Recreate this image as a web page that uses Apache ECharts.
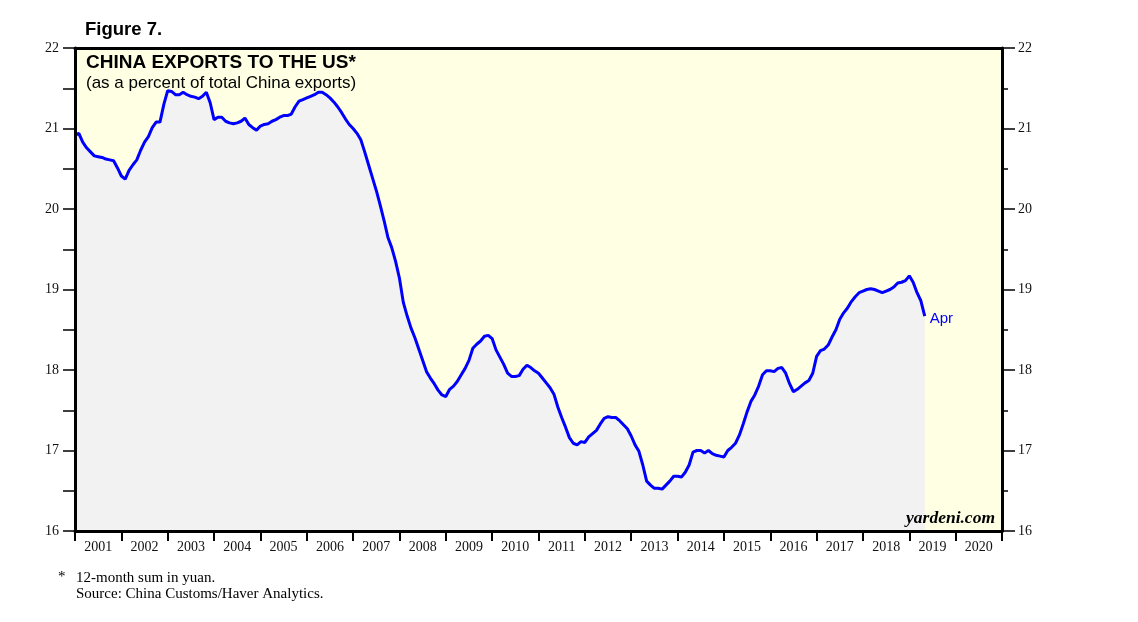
<!DOCTYPE html>
<html>
<head>
<meta charset="utf-8">
<script src="https://cdn.jsdelivr.net/npm/echarts@6/dist/echarts.min.js"></script>
<style>html,body{margin:0;padding:0;background:#fff}#c{width:1138px;height:622px}</style>
</head>
<body>
<div id="c"></div>
<script>
// Monthly values, end of Dec 2000 through end of Apr 2019 (percent)
const startYear = 2001;
const values = [
20.92,20.94,20.83,20.76,20.71,20.66,20.65,20.64,20.62,20.61,20.60,20.51,
20.41,20.37,20.48,20.55,20.61,20.73,20.83,20.90,21.01,21.08,21.08,21.30,
21.47,21.46,21.42,21.42,21.45,21.42,21.40,21.39,21.37,21.40,21.45,21.32,
21.11,21.14,21.14,21.09,21.07,21.06,21.07,21.09,21.13,21.05,21.01,20.98,
21.03,21.05,21.06,21.09,21.11,21.14,21.16,21.16,21.18,21.27,21.34,21.36,
21.38,21.40,21.42,21.45,21.45,21.42,21.38,21.33,21.27,21.20,21.12,21.05,
21.00,20.94,20.86,20.71,20.55,20.39,20.23,20.05,19.86,19.65,19.52,19.35,
19.14,18.84,18.67,18.52,18.40,18.26,18.12,17.98,17.90,17.83,17.75,17.69,
17.67,17.76,17.80,17.86,17.94,18.02,18.12,18.27,18.32,18.36,18.42,18.43,
18.39,18.25,18.16,18.07,17.96,17.92,17.92,17.93,18.01,18.06,18.03,17.99,
17.96,17.90,17.84,17.78,17.70,17.54,17.41,17.29,17.16,17.09,17.07,17.11,
17.10,17.17,17.21,17.25,17.33,17.40,17.42,17.41,17.41,17.37,17.32,17.27,
17.18,17.07,16.99,16.82,16.62,16.57,16.53,16.53,16.52,16.57,16.62,16.68,
16.68,16.67,16.73,16.82,16.98,17.00,17.00,16.97,17.00,16.96,16.94,16.93,
16.92,17.00,17.04,17.09,17.19,17.33,17.48,17.61,17.69,17.80,17.94,17.99,
17.99,17.98,18.02,18.03,17.96,17.83,17.73,17.76,17.80,17.84,17.87,17.96,
18.17,18.24,18.26,18.31,18.41,18.50,18.63,18.71,18.77,18.85,18.91,18.96,
18.98,19.00,19.01,19.00,18.98,18.96,18.98,19.00,19.03,19.08,19.09,19.11,
19.17,19.09,18.96,18.86,18.67
];
const yearLabels = ['2001','2002','2003','2004','2005','2006','2007','2008','2009','2010',
  '2011','2012','2013','2014','2015','2016','2017','2018','2019','2020'];
const yTicks = [16,17,18,19,20,21,22];
const lastLabel = 'Apr';

const seriesData = values.map((v, i) => [startYear + i / 12, v]);
const serif = '"Liberation Serif","Times New Roman",serif';
const sans = '"Liberation Sans",Arial,sans-serif';

const chart = echarts.init(document.getElementById('c'));
chart.setOption({
  animation: false,
  backgroundColor: '#ffffff',
  grid: { left: 75, right: 136, top: 48, bottom: 91, show: true, backgroundColor: '#FFFFE3', borderWidth: 0 },
  xAxis: [
    { type: 'value', min: 2001, max: 2021, interval: 1, position: 'bottom', z: 10,
      axisLine: { show: true, onZero: false, lineStyle: { color: '#000', width: 3 } },
      axisTick: { show: true, length: 10, lineStyle: { color: '#000', width: 2 } },
      axisLabel: { show: false }, splitLine: { show: false } },
    { type: 'value', min: 2001, max: 2021, interval: 0.5, position: 'bottom', z: 10,
      axisLine: { show: false }, axisTick: { show: false }, splitLine: { show: false },
      axisLabel: { show: true, margin: 9, color: '#111', fontFamily: serif, fontSize: 14,
        formatter: v => (Math.abs(v % 1 - 0.5) < 1e-6) ? yearLabels[Math.floor(v) - 2001] || '' : '' } },
    { type: 'value', min: 2001, max: 2021, position: 'top', z: 10,
      axisLine: { show: true, onZero: false, lineStyle: { color: '#000', width: 3 } },
      axisTick: { show: false }, axisLabel: { show: false }, splitLine: { show: false } }
  ],
  yAxis: [
    { type: 'value', min: 16, max: 22, interval: 0.5, position: 'left', z: 10,
      axisLine: { show: true, onZero: false, lineStyle: { color: '#000', width: 3 } },
      axisTick: { show: true, length: 12, lineStyle: { color: '#000', width: 1.5 } },
      axisLabel: { margin: 16, color: '#111', fontFamily: serif, fontSize: 14,
        formatter: v => yTicks.includes(v) ? String(v) : '' },
      splitLine: { show: false } },
    { type: 'value', min: 16, max: 22, interval: 1, position: 'right', z: 10,
      axisLine: { show: true, onZero: false, lineStyle: { color: '#000', width: 3 } },
      axisTick: { show: true, length: 13, lineStyle: { color: '#000', width: 1.5 } },
      minorTick: { show: true, splitNumber: 2, length: 6, lineStyle: { color: '#000', width: 1.5 } },
      axisLabel: { margin: 16, color: '#111', fontFamily: serif, fontSize: 14,
        formatter: v => yTicks.includes(v) ? String(v) : '' },
      splitLine: { show: false } }
  ],
  series: [{
    type: 'line', xAxisIndex: 0, yAxisIndex: 0, data: seriesData, showSymbol: false, symbol: 'none',
    lineStyle: { color: '#0000FF', width: 3 },
    areaStyle: { color: '#F2F2F2', opacity: 1, origin: 'start' },
    endLabel: { show: true, formatter: lastLabel, color: '#0000FF', fontFamily: sans, fontSize: 15, distance: 5, offset: [0, 3] },
    z: 3
  }],
  graphic: [
    { type: 'text', left: 85, top: 20, style: { text: 'Figure 7.', font: 'bold 18.5px ' + sans, fill: '#000' } },
    { type: 'text', left: 86, top: 53, z: 20, style: { text: 'CHINA EXPORTS TO THE US*', font: 'bold 19px ' + sans, fill: '#000' } },
    { type: 'text', left: 86, top: 75, z: 20, style: { text: '(as a percent of total China exports)', font: '17px ' + sans, fill: '#000' } },
    { type: 'text', right: 143, top: 509, z: 20, style: { text: 'yardeni.com', font: 'italic bold 17.5px ' + serif, fill: '#000' } },
    { type: 'text', left: 58, top: 570, style: { text: '*', font: '15px ' + serif, fill: '#000' } },
    { type: 'text', left: 76, top: 571, style: { text: '12-month sum in yuan.', font: '15px ' + serif, fill: '#000' } },
    { type: 'text', left: 76, top: 587, style: { text: 'Source: China Customs/Haver Analytics.', font: '15px ' + serif, fill: '#000' } }
  ]
});
</script>
</body>
</html>
